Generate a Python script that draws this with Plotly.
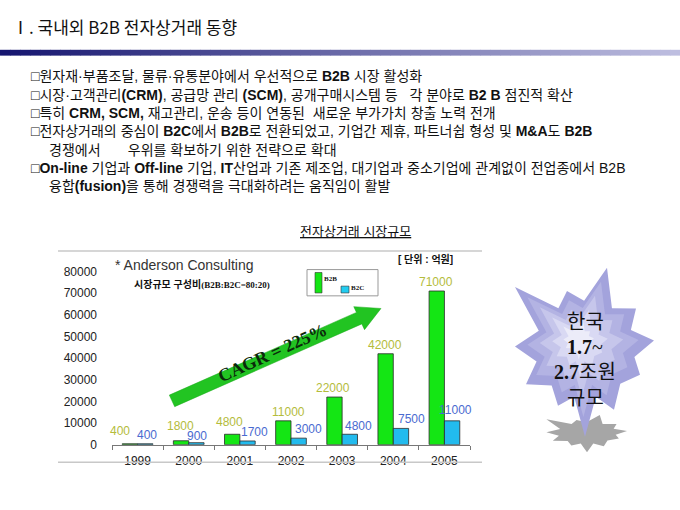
import math
import plotly.graph_objects as go

# market size data (unit: 억원)
years = ["1999", "2000", "2001", "2002", "2003", "2004", "2005"]
b2b = [400, 1800, 4800, 11000, 22000, 42000, 71000]
b2c = [400, 900, 1700, 3000, 4800, 7500, 11000]
y_ticks = [0, 10000, 20000, 30000, 40000, 50000, 60000, 70000, 80000]

# nudges (px) for the value labels, as placed on the slide
b2b_dx = [-18, -8, -10, -3, -9, -8, -8]
b2b_dy = [13, 15, 12, 9, 9, 9, 9]
b2c_dx = [9, 8, 15, 17, 16, 18, 11]
b2c_dy = [9, 7, 9, 9, 8, 9, 11]

W, H = 680, 510
KR = "Liberation Sans, Noto Sans CJK KR"
SERIF = "Liberation Serif, Noto Sans CJK KR"


def px(x):
    return x / W


def py(y):
    return 1 - y / H


fig = go.Figure()
fig.add_trace(go.Bar(
    x=years, y=b2b, name="B2B",
    marker=dict(color="#14e614", line=dict(color="#2a2a2a", width=0.8)),
))
fig.add_trace(go.Bar(
    x=years, y=b2c, name="B2C",
    marker=dict(color="#22bbee", line=dict(color="#2a2a2a", width=0.8)),
))

shapes = []
annotations = []

# value labels: on a category axis the i-th category sits at x = i
for i in range(len(years)):
    annotations.append(dict(x=i, y=b2b[i], xref="x", yref="y", text=str(b2b[i]),
                            showarrow=False, xshift=b2b_dx[i], yshift=b2b_dy[i],
                            font=dict(family="Liberation Sans", size=12, color="#b4bc3c")))
    annotations.append(dict(x=i, y=b2c[i], xref="x", yref="y", text=str(b2c[i]),
                            showarrow=False, xshift=b2c_dx[i], yshift=b2c_dy[i],
                            font=dict(family="Liberation Sans", size=12, color="#4a6ad0")))


def note(x, y, text, size, family=KR, color="#111", xanchor="left", **kw):
    annotations.append(dict(
        x=px(x), y=py(y), xref="paper", yref="paper", text=text,
        showarrow=False, xanchor=xanchor, yanchor="middle",
        font=dict(size=size, family=family, color=color), **kw))


def poly(points, fill, line_color=None, line_width=0):
    path = "M " + " L ".join(f"{px(a):.5f},{py(b):.5f}" for a, b in points) + " Z"
    shapes.append(dict(type="path", xref="paper", yref="paper", path=path,
                       fillcolor=fill, line=dict(color=line_color or fill, width=line_width),
                       layer="above"))


def rect(x0, y0, x1, y1, fill, line_color=None, line_width=0, layer="above"):
    shapes.append(dict(type="rect", xref="paper", yref="paper",
                       x0=px(x0), x1=px(x1), y0=py(y1), y1=py(y0),
                       fillcolor=fill, line=dict(color=line_color or fill, width=line_width),
                       layer=layer))


# header
note(10, 20, "Ⅰ. 국내외 B2B 전자상거래 동향", 17, family="Noto Sans CJK KR", color="#111")
n = 68
for i in range(n):
    t = i / (n - 1)
    c0, c1 = (22, 22, 112), (190, 190, 224)
    c = tuple(int(c0[k] + (c1[k] - c0[k]) * t) for k in range(3))
    rect(i * W / n, 44, (i + 1) * W / n + 0.5, 50, f"rgb{c}", layer="below")

# bullet text
bullets = [
    (29, 71, "□원자재·부품조달, 물류·유통분야에서 우선적으로 <b>B2B</b> 시장 활성화"),
    (29, 90, "□시장·고객관리<b>(CRM)</b>, 공급망 관리 <b>(SCM)</b>, 공개구매시스템 등   각 분야로 <b>B2 B</b> 점진적 확산"),
    (29, 109, "□특히 <b>CRM, SCM,</b> 재고관리, 운송 등이 연동된  새로운 부가가치 창출 노력 전개"),
    (29, 128, "□전자상거래의 중심이 <b>B2C</b>에서 <b>B2B</b>로 전환되었고, 기업간 제휴, 파트너쉽 형성 및 <b>M&amp;A</b>도 <b>B2B</b>"),
    (47, 147, "경쟁에서       우위를 확보하기 위한 전략으로 확대"),
    (29, 166, "□<b>On-line</b> 기업과 <b>Off-line</b> 기업, <b>IT</b>산업과 기존 제조업, 대기업과 중소기업에 관계없이 전업종에서 B2B"),
    (47, 184, "융합<b>(fusion)</b>을 통해 경쟁력을 극대화하려는 움직임이 활발"),
]
for x, y, t in bullets:
    note(x, y, t, 14)

# chart frame and captions
shapes.append(dict(type="line", xref="paper", yref="paper", x0=px(58), x1=px(482),
                   y0=py(251), y1=py(251), line=dict(color="#c8c8c8", width=1.5)))
shapes.append(dict(type="line", xref="paper", yref="paper", x0=px(58), x1=px(482),
                   y0=py(468), y1=py(468), line=dict(color="#c8c8c8", width=1.5)))
note(355, 231, "<u>전자상거래 시장규모</u>", 13, xanchor="center")
note(113, 265, "* Anderson Consulting", 14, family="Liberation Sans", color="#333")
note(132, 285, "<b>시장규모 구성비</b><span style='font-family:Liberation Serif;font-size:9px'><b>(B2B:B2C=80:20)</b></span>", 10)
note(396, 259, "<b>[ 단위 : 억원]</b>", 10)

# small legend box
rect(307, 270, 378, 297, "rgba(0,0,0,0)", line_color="#999", line_width=1)
rect(315, 273, 322, 294, "#14e614", line_color="#333", line_width=0.6)
rect(341, 287, 349, 294, "#22ccf0", line_color="#333", line_width=0.6)
note(322, 280, "<b>B2B</b>", 7, family=SERIF)
note(349, 289, "<b>B2C</b>", 7, family=SERIF)

# growth arrow
tail, tip = (172, 405), (381, 310)
ux, uy = tip[0] - tail[0], tip[1] - tail[1]
L = math.hypot(ux, uy)
ux, uy = ux / L, uy / L
nx, ny = -uy, ux
hw, hh, hl = 6.5, 13, 24
bx, by = tip[0] - ux * hl, tip[1] - uy * hl
arrow = [
    (tail[0] + nx * hw, tail[1] + ny * hw),
    (bx + nx * hw, by + ny * hw),
    (bx + nx * hh, by + ny * hh),
    tip,
    (bx - nx * hh, by - ny * hh),
    (bx - nx * hw, by - ny * hw),
    (tail[0] - nx * hw, tail[1] - ny * hw),
]
poly(arrow, "#22c422", line_color="#1aa81a", line_width=0.5)
ang = math.degrees(math.atan2(-(tip[1] - tail[1]), tip[0] - tail[0]))
note(272, 356, "<b>CAGR = 225%</b>", 18, family="Liberation Serif", color="#0b2a0b",
     xanchor="center", textangle=-ang)

# explosion star with shadow
cx, cy = 585, 352
tips = [(607, 268), (636, 310), (654, 343), (640, 378), (614, 414), (585, 442),
        (558, 410), (526, 388), (515, 349), (515, 288), (567, 292)]


def star_points(scale, ox, oy, sy=1.0, r_in=50):
    pts = []
    m = len(tips)
    for i in range(m):
        a = tips[i]
        b = tips[(i + 1) % m]
        pts.append((ox + (a[0] - cx) * scale, oy + (a[1] - cy) * scale * sy))
        va = math.atan2(a[1] - cy, a[0] - cx)
        vb = math.atan2(b[1] - cy, b[0] - cx)
        mx, my = math.cos(va) + math.cos(vb), math.sin(va) + math.sin(vb)
        mm = math.hypot(mx, my)
        pts.append((ox + mx / mm * r_in * scale, oy + my / mm * r_in * scale * sy))
    return pts


poly(star_points(0.58, 587, 438, sy=0.38), "#a6a6a6")
layers = [(1.0, "#a3a3dc"), (0.8, "#b3b3e3"), (0.6, "#c6c6eb"), (0.4, "#d9d9f3"), (0.22, "#ececf9")]
for s, c in layers:
    poly(star_points(s, cx - 8 * (1 - s), cy - 12 * (1 - s)), c)

note(585, 322, "한국", 20, family="Noto Sans CJK KR", color="#111", xanchor="center")
note(585, 350, "<b>1.7</b>~", 20, family=SERIF, color="#111", xanchor="center")
note(585, 375, "<b>2.7</b>조원", 20, family=SERIF, color="#111", xanchor="center")
note(585, 401, "규모", 20, family="Noto Sans CJK KR", color="#111", xanchor="center")

fig.update_layout(
    width=W, height=H,
    margin=dict(l=0, r=0, t=0, b=0),
    paper_bgcolor="white", plot_bgcolor="white",
    showlegend=False,
    barmode="group", bargap=0.4, bargroupgap=0,
    shapes=shapes, annotations=annotations,
    xaxis=dict(domain=[px(112), px(470)], type="category", range=[-0.5, 6.5],
               showline=True, linecolor="#777", linewidth=1,
               ticks="outside", tickson="boundaries", ticklen=4, tickcolor="#777",
               ticklabelstandoff=5,
               tickfont=dict(family="Liberation Sans", size=12, color="#222"),
               showgrid=False),
    yaxis=dict(domain=[py(450), py(272)], range=[0, 80000],
               tickvals=y_ticks, ticktext=[str(v) for v in y_ticks],
               showgrid=False, showline=False, zeroline=False, ticks="",
               ticklabelstandoff=14,
               tickfont=dict(family="Liberation Sans", size=12, color="#222")),
)

# drop the default page margin so the figure sits at the window corner
fig.write_html("out.html", config={"displayModeBar": False},
               post_script="document.body.style.margin='0';")
